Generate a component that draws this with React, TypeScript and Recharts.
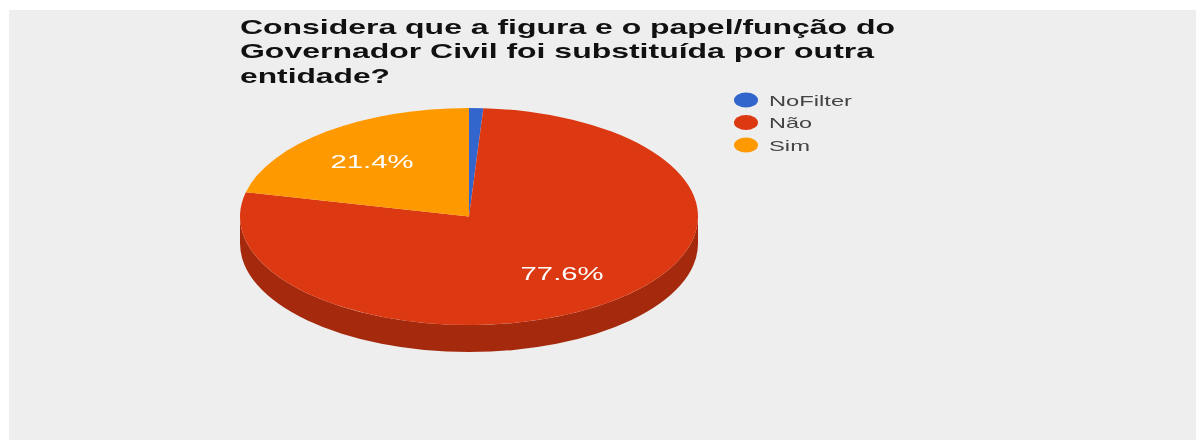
import React from 'react';
import { PieChart, Pie, Sector, Cell, Legend } from 'recharts';

const titleLines = [
	'Considera que a figura e o papel/função do',
	'Governador Civil foi substituída por outra',
	'entidade?',
];
const titleWidths = [655, 634, 150];
const sliceNames = ['NoFilter', 'Não', 'Sim'];
const sliceValues = [1.0, 77.6, 21.4];
const sliceColors = ['#3366CC', '#DC3912', '#FF9900'];
const legendWidths = [83, 43, 41];

const pieData = sliceNames.map((name, i) => ({ name, value: sliceValues[i] }));

const CX = 469;
const CY = 216.5;
const RX = 229;
const RY = 108.5;
const DEPTH = 27;
const SQUASH = RY / RX;
const RADIAN = Math.PI / 180;

// flatten the sector and add the wall for the part that faces the viewer
const renderSlice = (props: any) => {
	const { cx, cy, outerRadius, startAngle, endAngle, fill } = props;
	const from = Math.min(startAngle, 0);
	const to = Math.max(endAngle, -180);
	let wall = null;
	if (from > to) {
		const x1 = cx + RX * Math.cos(from * RADIAN);
		const y1 = cy - RY * Math.sin(from * RADIAN);
		const x2 = cx + RX * Math.cos(to * RADIAN);
		const y2 = cy - RY * Math.sin(to * RADIAN);
		const d = `M${x1},${y1} A${RX},${RY} 0 0 1 ${x2},${y2} L${x2},${y2 + DEPTH} A${RX},${RY} 0 0 0 ${x1},${y1 + DEPTH} Z`;
		wall = <path d={d} fill="#A52A0D" />;
	}
	return (
		<g>
			{wall}
			<g transform={`translate(${cx},${cy}) scale(1,${SQUASH}) translate(${-cx},${-cy})`}>
				<Sector
					cx={cx}
					cy={cy}
					innerRadius={0}
					outerRadius={outerRadius}
					startAngle={startAngle}
					endAngle={endAngle}
					fill={fill}
				/>
			</g>
		</g>
	);
};

const renderLabel = (props: any) => {
	const { cx, cy, midAngle, value } = props;
	if (value < 5) return null;
	const x = cx + RX * 0.68 * Math.cos(-midAngle * RADIAN);
	const y = cy + RY * 0.65 * Math.sin(-midAngle * RADIAN);
	return (
		<text
			x={x}
			y={y + 6.8}
			textAnchor="middle"
			fontFamily="Liberation Sans"
			fontSize={18.5}
			fill="#fff"
			textLength={83}
			lengthAdjust="spacingAndGlyphs"
		>
			{value.toFixed(1)}%
		</text>
	);
};

const renderLegend = () => (
	<svg width={130} height={70} style={{ display: 'block' }}>
		{sliceNames.map((name, i) => (
			<g key={name}>
				<ellipse cx={12} cy={11 + i * 22.5} rx={12} ry={7.5} fill={sliceColors[i]} />
				<text
					x={35}
					y={16.5 + i * 22.5}
					fontFamily="Liberation Sans"
					fontSize={15}
					fill="#444"
					textLength={legendWidths[i]}
					lengthAdjust="spacingAndGlyphs"
				>
					{name}
				</text>
			</g>
		))}
	</svg>
);

export default function App() {
	return (
		<div style={{ position: 'absolute', left: 0, top: 0, width: 1196, height: 440, background: '#fff', overflow: 'hidden' }}>
			<div style={{ position: 'absolute', left: 9, top: 10, right: 0, bottom: 0, background: '#EEEEEE' }} />
			<div style={{ position: 'absolute', left: 0, top: 0, filter: 'blur(0.7px)' }}>
				<PieChart width={1196} height={440} margin={{ top: 0, right: 0, bottom: 0, left: 0 }}>
					{titleLines.map((line, i) => (
						<text
							key={line}
							x={240}
							y={33.7 + i * 24.5}
							fontFamily="Liberation Sans"
							fontWeight="bold"
							fontSize={20.5}
							fill="#111"
							textLength={titleWidths[i]}
							lengthAdjust="spacingAndGlyphs"
						>
							{line}
						</text>
					))}
					<Pie
						data={pieData}
						dataKey="value"
						nameKey="name"
						cx={CX}
						cy={CY}
						innerRadius={0}
						outerRadius={RX}
						startAngle={90}
						endAngle={-270}
						stroke="none"
						shape={renderSlice}
						label={renderLabel}
						labelLine={false}
						isAnimationActive={false}
					>
						{pieData.map((entry, index) => (
							<Cell key={`cell-${index}`} fill={sliceColors[index]} />
						))}
					</Pie>
					<Legend
						content={renderLegend}
						wrapperStyle={{ position: 'absolute', left: 734, top: 89, width: 130, height: 70, bottom: 'auto', right: 'auto' }}
					/>
				</PieChart>
			</div>
		</div>
	);
}
